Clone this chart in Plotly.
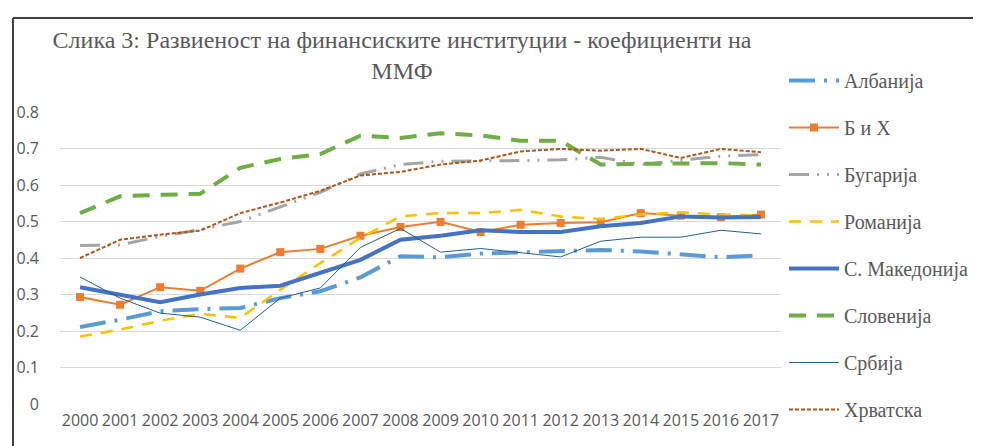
import plotly.graph_objects as go

years = [str(y) for y in range(2000, 2018)]

albanija = [0.211, 0.231, 0.254, 0.260, 0.263, 0.290, 0.309, 0.347, 0.405, 0.402,
            0.412, 0.416, 0.420, 0.422, 0.418, 0.409, 0.402, 0.407]
bih = [0.293, 0.272, 0.320, 0.310, 0.371, 0.416, 0.425, 0.461, 0.485, 0.499,
       0.471, 0.491, 0.496, 0.498, 0.523, 0.516, 0.512, 0.519]
bugarija = [0.434, 0.436, 0.459, 0.478, 0.500, 0.541, 0.580, 0.630, 0.656, 0.665,
            0.665, 0.667, 0.669, 0.676, 0.656, 0.667, 0.679, 0.683]
romanija = [0.185, 0.204, 0.228, 0.247, 0.236, 0.313, 0.386, 0.455, 0.514, 0.523,
            0.523, 0.532, 0.514, 0.507, 0.519, 0.525, 0.519, 0.517]
makedonija = [0.320, 0.300, 0.279, 0.300, 0.318, 0.324, 0.359, 0.395, 0.450, 0.461,
              0.476, 0.471, 0.471, 0.487, 0.496, 0.514, 0.511, 0.512]
slovenija = [0.523, 0.569, 0.573, 0.576, 0.647, 0.671, 0.685, 0.735, 0.729, 0.742,
             0.736, 0.721, 0.721, 0.656, 0.658, 0.659, 0.660, 0.656]
srbija = [0.348, 0.290, 0.249, 0.238, 0.202, 0.290, 0.318, 0.429, 0.481, 0.416,
          0.426, 0.414, 0.403, 0.446, 0.457, 0.457, 0.476, 0.466]
hrvatska = [0.400, 0.450, 0.464, 0.475, 0.523, 0.552, 0.584, 0.626, 0.636, 0.656,
            0.667, 0.692, 0.699, 0.694, 0.699, 0.674, 0.699, 0.690]

y_ticks = [0, 0.1, 0.2, 0.3, 0.4, 0.5, 0.6, 0.7, 0.8]
y_tick_labels = ["0", "0.1", "0.2", "0.3", "0.4", "0.5", "0.6", "0.7", "0.8"]

title_text = "Слика 3: Развиеност на финансиските институции - коефициенти на<br>ММФ"

series = [
    ("Албанија", albanija, dict(color="#5B9BD5", width=4, dash="26px,9px,3px,9px"), None),
    ("Б и Х", bih, dict(color="#ED7D31", width=2), dict(symbol="square", size=8, color="#ED7D31")),
    ("Бугарија", bugarija, dict(color="#A5A5A5", width=3, dash="20px,8px,2px,8px,2px,8px"), None),
    ("Романија", romanija, dict(color="#FFC000", width=2.5, dash="12px,9px"), None),
    ("С. Македонија", makedonija, dict(color="#4472C4", width=4), None),
    ("Словенија", slovenija, dict(color="#70AD47", width=4, dash="17px,11px"), None),
    ("Србија", srbija, dict(color="#255E91", width=1), None),
    ("Хрватска", hrvatska, dict(color="#B4531A", width=2, dash="4px,2px"), None),
]

fig = go.Figure()
for i, (name, vals, line, marker) in enumerate(series):
    fig.add_trace(go.Scatter(
        x=years, y=vals, name=name, legendgroup=f"g{i}",
        mode="lines+markers" if marker else "lines",
        line=line, marker=marker,
    ))

W, H = 981, 446
L, R, T, B = 52, 773, 104, 396

def px(x):
    return (x - L) / (R - L)

def py(y):
    return (B - y) / (B - T)

gray = "#595959"
fig.update_layout(
    width=W, height=H,
    margin=dict(l=L, r=W - R, t=T, b=H - B, autoexpand=False),
    paper_bgcolor="white", plot_bgcolor="white",
    title=dict(text=title_text, x=394 / W, xanchor="center", xref="container",
               y=1 - 40 / H, yanchor="top", yref="container",
               font=dict(family="Liberation Serif", size=24, color=gray)),
    font=dict(family="Open Sans", color=gray),
    showlegend=True,
    legend=dict(x=px(776), xanchor="left", y=py(53), yanchor="top",
                font=dict(family="Liberation Serif", size=20, color=gray),
                tracegroupgap=18, bgcolor="rgba(0,0,0,0)", itemwidth=50,
                maxheight=440),
    xaxis=dict(type="category", range=[-0.5, 17.5], showgrid=False, zeroline=False,
               showline=False, ticks="", ticklabelstandoff=5,
               tickfont=dict(family="Open Sans", size=16, color=gray)),
    yaxis=dict(range=[0, 0.8], tickvals=y_ticks, ticktext=y_tick_labels,
               showgrid=True, gridcolor="#D9D9D9", gridwidth=1, zeroline=False,
               ticks="", showline=False, ticklabelstandoff=20,
               tickfont=dict(family="Open Sans", size=16, color=gray)),
    shapes=[
        dict(type="line", xref="paper", yref="paper", x0=px(5), x1=px(976), y0=py(10), y1=py(10),
             line=dict(color="#404040", width=2)),
        dict(type="line", xref="paper", yref="paper", x0=px(5), x1=px(5), y0=py(10), y1=py(447),
             line=dict(color="#404040", width=2)),
    ],
)

fig.write_html("out.html")
